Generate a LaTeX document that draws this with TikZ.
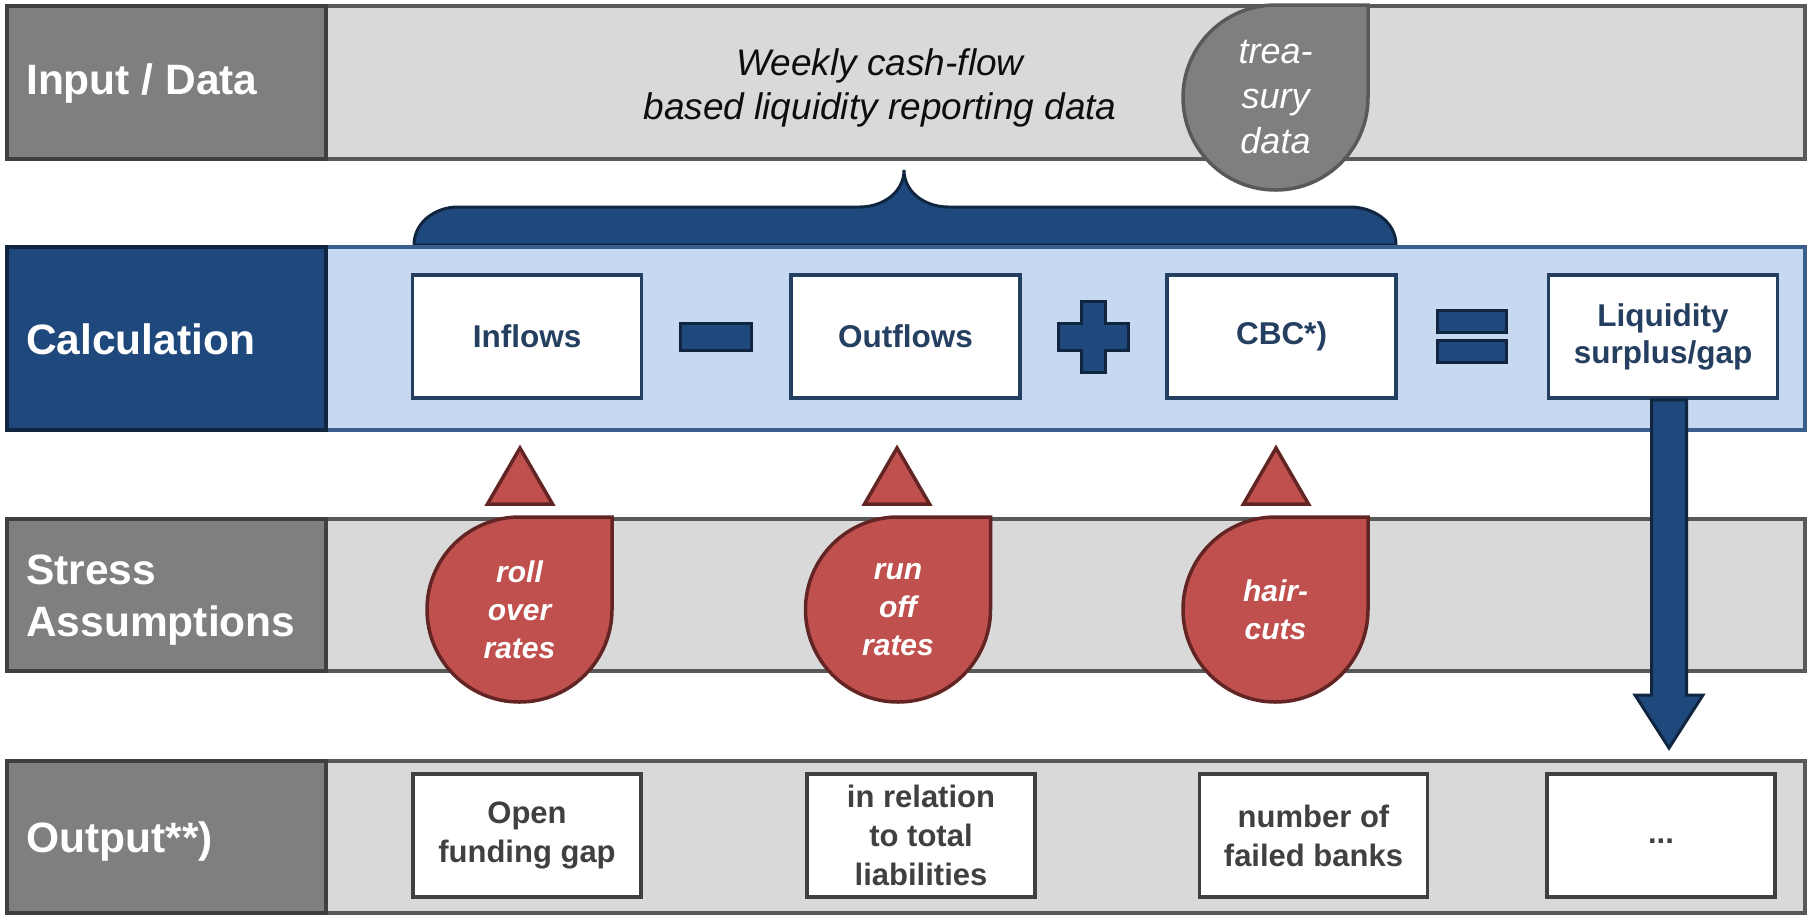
\documentclass[tikz,border=0pt]{standalone}
\usepackage{fontspec}
\setmainfont{Liberation Sans}
\usetikzlibrary{positioning, calc}

\definecolor{labelgray}{HTML}{7F7F7F}
\definecolor{labelline}{HTML}{3F3F3F}
\definecolor{bandgray}{HTML}{D9D9D9}
\definecolor{bandline}{HTML}{595959}
\definecolor{calcblue}{HTML}{1F497D}
\definecolor{calcline}{HTML}{10253F}
\definecolor{lightblue}{HTML}{C6D9F1}
\definecolor{lightline}{HTML}{3A5F8F}
\definecolor{boxblue}{HTML}{243F60}
\definecolor{stressred}{HTML}{C0504D}
\definecolor{stressline}{HTML}{632523}
\definecolor{outgray}{HTML}{404040}

% drop shape: #1 = centre x, #2 = top y
\newcommand{\dropat}[2]{({#1+92.5},#2) -- ({#1+92.5},{#2+92.5}) arc[start angle=0, end angle=-270, radius=92.5pt] -- cycle}

\begin{document}
\begin{tikzpicture}[x=1pt, y=-1pt,
    every node/.style={inner sep=0pt},
    band/.style={draw=bandline, fill=bandgray, line width=4pt, anchor=north west, minimum width=1798pt},
    lightband/.style={band, draw=lightline, fill=lightblue},
    rowlabel/.style={draw=labelline, fill=labelgray, line width=4pt, anchor=north west, minimum width=319pt},
    labeltext/.style={anchor=west, align=left, text=white, font=\fontsize{42.5}{52}\selectfont\bfseries},
    calcbox/.style={draw=boxblue, fill=white, line width=3.5pt, minimum width=229pt, minimum height=123pt,
      align=center, text=boxblue, font=\fontsize{31.5}{37}\selectfont\bfseries},
    outbox/.style={calcbox, draw=outgray, text=outgray, minimum width=228pt, font=\fontsize{31}{39}\selectfont\bfseries},
    sign/.style={draw=calcline, fill=calcblue, line width=3pt},
    drop/.style={draw=stressline, fill=stressred, line width=3.5pt},
    droptext/.style={align=center, text=white, font=\fontsize{30}{38}\selectfont\bfseries\itshape},
  ]
  \useasboundingbox (0,0) rectangle (1807,914);

  % Brace over the calculation row
  \filldraw[sign] (414,245) to[out=90,in=180] (458,207) -- (860,207) to[out=0,in=-90] (904,170)
    to[out=-90,in=180] (948,207) -- (1350,207) to[out=0,in=90] (1396,245) -- cycle;

  % Rows
  \node[band, minimum height=153pt] (inputband) at (5,4) {};
  \node[lightband, minimum height=183pt] (calcband) at (5,245) {};
  \node[band, minimum height=152pt] (stressband) at (5,517) {};
  \node[band, minimum height=152pt] (outputband) at (5,759) {};

  \node[rowlabel, minimum height=153pt] (inputlabel) at (5,4) {};
  \node[rowlabel, draw=calcline, fill=calcblue, minimum height=183pt] (calclabel) at (5,245) {};
  \node[rowlabel, minimum height=152pt] (stresslabel) at (5,517) {};
  \node[rowlabel, minimum height=152pt] (outputlabel) at (5,759) {};

  \node[labeltext] at (26,84) {Input / Data};
  \node[labeltext] at (26,339) {Calculation};
  \node[labeltext] at (26,600) {Stress\\Assumptions};
  \node[labeltext] at (26,841) {Output**)};

  % Input data
  \node[align=center, text=black!95, font=\fontsize{37}{44}\selectfont\itshape] (weekly) at (880,88)
    {Weekly cash-flow\\based liquidity reporting data};
  \draw[draw=bandline, fill=labelgray, line width=3.5pt] \dropat{1275.5}{5};
  \node[align=center, text=white, font=\fontsize{36}{45}\selectfont\itshape] (treasury) at (1275.5,97)
    {trea-\\sury\\data};

  % Calculation
  \node[calcbox] (inflows) at (527,336.5) {Inflows};
  \node[calcbox] (outflows) at (905.5,336.5) {Outflows};
  \node[calcbox] (cbc) at (1281.5,336.5) {CBC*)};
  \node[calcbox] (liq) at (1663,336.5) {Liquidity\\surplus/gap};

  \node[sign, minimum width=71pt, minimum height=27pt] (minus) at ($(inflows.east)!0.5!(outflows.west)$) {};
  \coordinate (plus) at ($(outflows.east)!0.5!(cbc.west)$);
  \draw[sign, shift={(plus)}] (-12,-35.5) -- (12,-35.5) -- (12,-13.5) -- (35,-13.5) -- (35,13.5) -- (12,13.5)
    -- (12,35.5) -- (-12,35.5) -- (-12,13.5) -- (-35,13.5) -- (-35,-13.5) -- (-12,-13.5) -- cycle;
  \coordinate (equals) at ($(cbc.east)!0.5!(liq.west)$);
  \node[sign, minimum width=69pt, minimum height=22pt, above=2.5pt of equals] (eqtop) {};
  \node[sign, minimum width=69pt, minimum height=22pt, below=2.5pt of equals] (eqbottom) {};

  % Stress assumptions
  \draw[drop] \dropat{519.5}{517};
  \draw[drop] \dropat{898}{517};
  \draw[drop] \dropat{1275.5}{517};
  \node[droptext] (rollover) at (519.5,609.5) {roll\\over\\rates};
  \node[droptext] (runoff) at (898,609.5) {run\\off\\rates};
  \node[droptext] (haircuts) at (1275.5,609.5) {hair-\\cuts};

  \draw[drop] (520,448) -- (552.5,504) -- (487.5,504) -- cycle;
  \draw[drop] (897,448) -- (929.5,504) -- (864.5,504) -- cycle;
  \draw[drop] (1276,448) -- (1308.5,504) -- (1243.5,504) -- cycle;

  % Output
  \node[outbox] (opengap) at (527,835.5) {Open\\funding gap};
  \node[outbox] (relation) at (921,835.5) {in relation\\to total\\liabilities};
  \node[outbox] (failed) at (1313.5,835.5) {number of\\failed banks};
  \node[outbox, text height=15pt] (more) at (1661,835.5) {...};

  % Result arrow
  \coordinate (shafttop) at ($(liq.south)+(6,0)$);
  \coordinate (tip) at (shafttop |- 0,748);
  \draw[sign] ($(shafttop)+(-17.5,0)$) -- ($(tip)+(-17.5,-53)$) -- ($(tip)+(-34,-53)$) -- (tip)
    -- ($(tip)+(34,-53)$) -- ($(tip)+(17.5,-53)$) -- ($(shafttop)+(17.5,0)$) -- cycle;
\end{tikzpicture}
\end{document}
